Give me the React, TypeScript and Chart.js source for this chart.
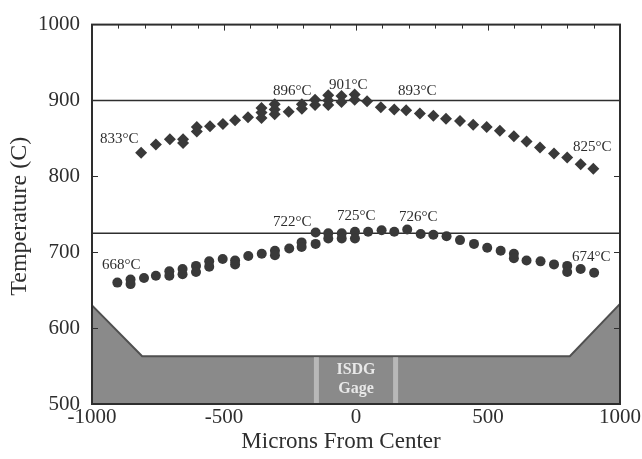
import React, { useEffect, useRef } from "react";
import { Chart, registerables } from "chart.js";

Chart.register(...registerables);

// ---- data ----
const diamondX = [-814, -758, -705, -655, -655, -603, -603, -553, -504, -458, -409, -358, -358, -358, -308, -308, -308, -255, -205, -205, -155, -155, -105, -105, -105, -55, -55, -5, -5, 42, 94, 145, 190, 242, 293, 341, 394, 444, 495, 545, 598, 646, 697, 750, 800, 851, 899];
const diamondY = [831, 842, 849, 849, 844, 865, 859, 866, 869, 874, 878, 890, 884, 877, 895, 888, 882, 885, 895, 889, 901, 894, 907, 900, 894, 906, 898, 908, 901, 899, 891, 888, 887, 883, 880, 876, 873, 868, 865, 860, 853, 846, 838, 830, 825, 816, 810];

const circleX = [-904, -854, -854, -803, -758, -707, -707, -657, -657, -606, -606, -556, -556, -505, -458, -458, -408, -357, -307, -307, -253, -206, -206, -153, -153, -105, -105, -54, -54, -4, -4, 46, 97, 145, 194, 245, 293, 343, 394, 447, 497, 548, 598, 598, 646, 699, 750, 800, 800, 851, 902];
const circleY = [660, 664, 658, 666, 669, 675, 669, 678, 671, 682, 674, 688, 681, 691, 689, 684, 695, 698, 702, 696, 705, 713, 707, 726, 711, 725, 718, 725, 718, 727, 718, 727, 729, 727, 730, 724, 723, 721, 716, 711, 706, 702, 698, 692, 689, 688, 684, 682, 674, 678, 673];

const refLines = [900, 725];
const specimenX = [-1000, -810, 810, 1000];
const specimenY = [630, 563, 563, 632];
const gageEdges = [-150, 150];
const gageText = ["ISDG", "Gage"];
const gageTextY = [540, 514];

const peakLabels = ["833°C", "896°C", "901°C", "893°C", "825°C", "722°C", "725°C", "726°C", "668°C", "674°C"];
const peakLabelX = [-970, -314, -102, 159, 822, -314, -72, 163, -962, 818];
const peakLabelY = [844, 907, 915, 907, 834, 734, 743, 741, 678, 688];

const xMin = -1000, xMax = 1000, xStep = 500, xMinorStep = 100;
const yMin = 500, yMax = 1000, yStep = 100;
const xTitle = "Microns From Center";
const yTitle = "Temperature (C)";

const SERIF = '"Liberation Serif", "DejaVu Serif", serif';
const INK = "#2e2e2e";

const decorPlugin = {
  id: "decor",
  afterDatasetsDraw(chart: any) {
    const { ctx, chartArea: a, scales } = chart;
    const x = scales.x, y = scales.y;
    ctx.save();
    // gage strips
    const flatTop = y.getPixelForValue(specimenY[1]);
    ctx.fillStyle = "#b8b8b8";
    gageEdges.forEach((v) => {
      const px = x.getPixelForValue(v);
      ctx.fillRect(px - 2.5, flatTop + 1, 5, a.bottom - flatTop - 1);
    });
    // gage text
    ctx.fillStyle = "#e8e8e8";
    ctx.font = `bold 16px ${SERIF}`;
    ctx.textAlign = "center";
    ctx.textBaseline = "alphabetic";
    gageText.forEach((t, i) => ctx.fillText(t, x.getPixelForValue(0), y.getPixelForValue(gageTextY[i])));
    // peak labels
    ctx.fillStyle = INK;
    ctx.font = `15px ${SERIF}`;
    ctx.textAlign = "left";
    peakLabels.forEach((t, i) => ctx.fillText(t, x.getPixelForValue(peakLabelX[i]), y.getPixelForValue(peakLabelY[i])));
    // frame
    ctx.strokeStyle = INK;
    ctx.lineWidth = 2;
    ctx.strokeRect(a.left, a.top, a.right - a.left, a.bottom - a.top);
    // inward ticks
    ctx.lineWidth = 1;
    ctx.beginPath();
    for (let v = xMin + xMinorStep; v < xMax; v += xMinorStep) {
      const px = Math.round(x.getPixelForValue(v)) + 0.5;
      const len = v % xStep === 0 ? 6 : 4;
      ctx.moveTo(px, a.top);
      ctx.lineTo(px, a.top + len);
    }
    for (let v = yMin + yStep; v < yMax; v += yStep) {
      const py = Math.round(y.getPixelForValue(v)) + 0.5;
      ctx.moveTo(a.left, py);
      ctx.lineTo(a.left + 6, py);
      ctx.moveTo(a.right, py);
      ctx.lineTo(a.right - 6, py);
    }
    ctx.stroke();
    // titles
    ctx.fillStyle = INK;
    ctx.textAlign = "center";
    ctx.textBaseline = "middle";
    ctx.font = `23px ${SERIF}`;
    ctx.fillText(xTitle, 341, 442);
    ctx.save();
    ctx.translate(20, (a.top + a.bottom) / 2 + 2);
    ctx.rotate(-Math.PI / 2);
    ctx.font = `24px ${SERIF}`;
    ctx.fillText(yTitle, 0, 0);
    ctx.restore();
    ctx.restore();
  },
};

export default function App() {
  const ref = useRef<HTMLCanvasElement | null>(null);
  useEffect(() => {
    document.body.style.margin = "0";
    const canvas = ref.current!;
    const toXY = (xs: number[], ys: number[]) => xs.map((v, i) => ({ x: v, y: ys[i] }));
    const chart = new Chart(canvas, {
      type: "line",
      data: {
        datasets: [
          {
            label: "diamonds",
            data: toXY(diamondX, diamondY),
            showLine: false,
            pointStyle: "rectRot",
            pointRadius: 6,
            pointBackgroundColor: "#393939",
            pointBorderColor: "#393939",
            pointBorderWidth: 0,
            order: 1,
          },
          {
            label: "circles",
            data: toXY(circleX, circleY),
            showLine: false,
            pointStyle: "circle",
            pointRadius: 5,
            pointBackgroundColor: "#393939",
            pointBorderColor: "#393939",
            pointBorderWidth: 0,
            order: 2,
          },
          ...refLines.map((v, i) => ({
            label: "ref" + i,
            data: [{ x: xMin, y: v }, { x: xMax, y: v }],
            borderColor: INK,
            borderWidth: 1.6,
            pointRadius: 0,
            fill: false,
            order: 3,
          })),
          {
            label: "specimen",
            data: toXY(specimenX, specimenY),
            borderColor: "#505050",
            borderWidth: 2,
            backgroundColor: "#8a8a8a",
            pointRadius: 0,
            fill: "start",
            tension: 0,
            order: 4,
          },
        ] as any,
      },
      options: {
        responsive: false,
        animation: false,
        layout: { padding: { top: 22, right: 22, left: 0, bottom: 0 } },
        plugins: { legend: { display: false }, tooltip: { enabled: false } },
        scales: {
          x: {
            type: "linear",
            min: xMin,
            max: xMax,
            grid: { display: false, drawTicks: false },
            border: { display: false },
            ticks: {
              stepSize: xStep,
              autoSkip: false,
              maxRotation: 0,
              padding: 1,
              color: INK,
              font: { family: SERIF, size: 21 },
              callback: (v: any) => String(v),
            },
            afterFit: (s: any) => { s.height = 55; },
          },
          y: {
            min: yMin,
            max: yMax,
            grid: { display: false, drawTicks: false },
            border: { display: false },
            ticks: {
              stepSize: yStep,
              padding: 12,
              color: INK,
              font: { family: SERIF, size: 21 },
              callback: (v: any) => String(v),
            },
            afterFit: (s: any) => { s.width = 92; },
          },
        },
      } as any,
      plugins: [decorPlugin],
    });
    return () => chart.destroy();
  }, []);
  return (
    <div style={{ width: 642, height: 459 }}>
      <canvas ref={ref} width={642} height={459} style={{ display: "block" }} />
    </div>
  );
}
